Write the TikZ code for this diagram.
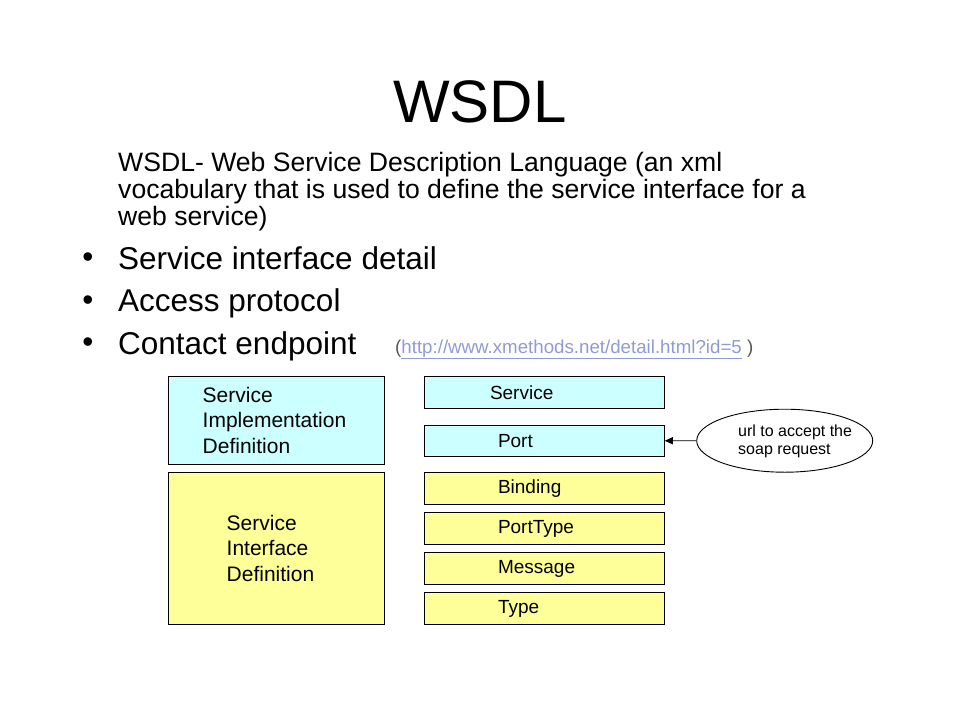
\documentclass[tikz,border=0pt]{standalone}
\usepackage{fontspec}
\setmainfont{Liberation Sans}
\usetikzlibrary{arrows.meta}
\usetikzlibrary{shapes.geometric}
\definecolor{implcyan}{HTML}{CCFFFF}
\definecolor{intfyellow}{HTML}{FFFF99}
\definecolor{linkblue}{HTML}{8F9BD2}
\definecolor{parengray}{HTML}{555555}

\begin{document}
\begin{tikzpicture}[x=1pt,y=-1pt,
        box/.style={draw,line width=0.9pt,inner ysep=0pt,align=left},
        defbox/.style={box,font=\fontsize{21}{25.5}\selectfont},
        partbox/.style={box,font=\fontsize{19}{22}\selectfont,minimum height=31.6,text width=92.6,inner xsep=73.7},
        plain/.style={inner sep=0pt}]
            \useasboundingbox (0,0) rectangle (960,720);

            \node[plain,anchor=base,font=\fontsize{60}{60}\selectfont] (title) at (480,122) {WSDL};
            \node[plain,anchor=base west,align=left,font=\fontsize{26.6}{26.8}\selectfont] (desc) at (118,225.5)
                {WSDL- Web Service Description Language (an xml\\vocabulary that is used to define the service interface for a\\web service)};
            \foreach \name/\txt/\y in {detail/Service interface detail/269,protocol/Access protocol/311.5,endpoint/Contact endpoint/354} {
                \node[plain,anchor=base,font=\fontsize{31.5}{36}\selectfont] (\name dot) at (88,\y-1.5) {\textbullet};
                \node[plain,anchor=base west,font=\fontsize{31.5}{36}\selectfont] (\name) at (118,\y) {\txt};
            }
            \node[plain,anchor=base west,text=parengray,font=\fontsize{18.7}{20}\selectfont] (link) at (395,353)
                {(\textcolor{linkblue}{\underline{http://www.xmethods.net/detail.html?id=5}} )};

            \node[defbox,fill=implcyan,text width=147.2,inner xsep=34.4,minimum height=87.3] (impl) at (276.3,420.3) {Service\\Implementation\\Definition};
            \node[defbox,fill=intfyellow,text width=99.2,inner xsep=58.4,minimum height=152] (intf) at (276.3,548.3) {Service\\Interface\\Definition};

            \node[partbox,fill=implcyan,text width=108.6,inner xsep=65.7] (service) at (544.3,392.5) {Service};
            \node[partbox,fill=implcyan] (port) at (544.3,440.8) {Port};
            \foreach \name/\txt/\y in {binding/Binding/488.5,porttype/PortType/528.5,message/Message/568.5,type/Type/608.5}
                \node[partbox,fill=intfyellow] (\name) at (544.3,\y) {\txt};

            \node[draw,ellipse,line width=0.9pt,minimum width=176,minimum height=63,inner sep=0pt] (urlbox) at (784.7,440.7) {};
            \node[plain,anchor=west,align=left,font=\fontsize{16}{18}\selectfont] (urltext) at (738,441) {url to accept the\\soap request};

            \draw[-{Triangle[length=8pt,width=7pt]},line width=0.9pt] (urlbox) -- (port);
        \end{tikzpicture}
\end{document}
